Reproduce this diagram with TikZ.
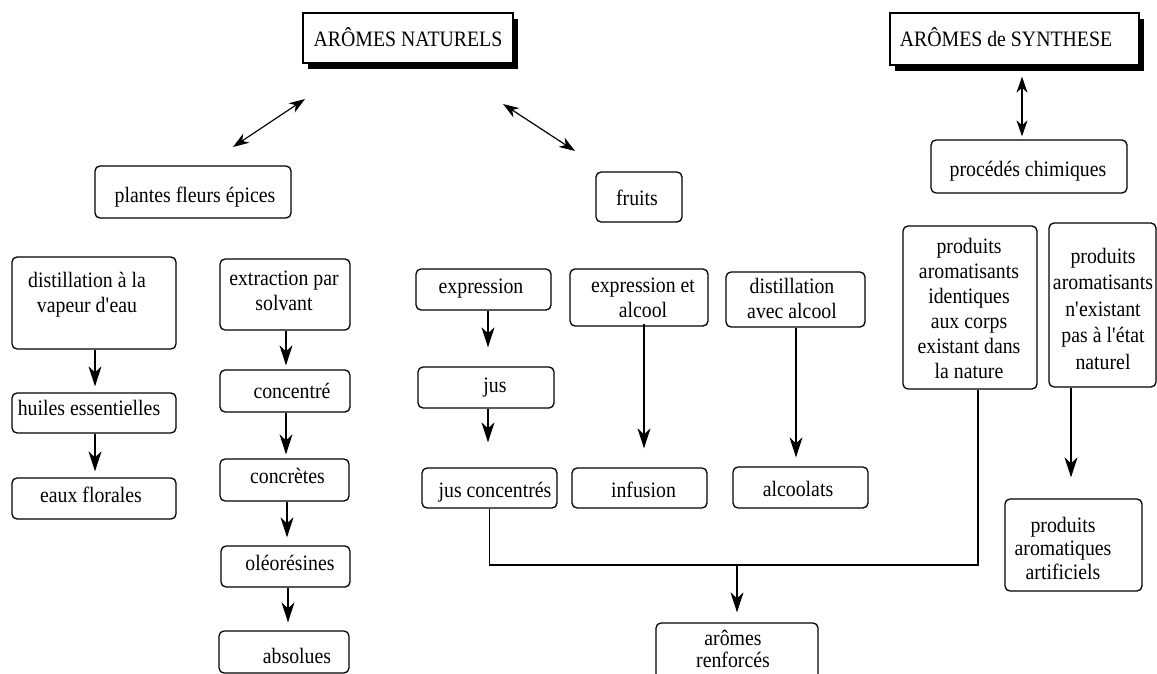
\documentclass[tikz,border=0pt]{standalone}
\usepackage{fontspec}
\setmainfont{Liberation Serif}[FakeStretch=0.9]
\usetikzlibrary{arrows.meta,shadows}
\tikzset{
  box/.style={draw, rounded corners=5pt, line width=1.3pt, inner sep=0pt},
  topbox/.style={draw, line width=1.3pt, fill=white, inner sep=0pt,
    drop shadow={shadow xshift=5pt, shadow yshift=-6pt, fill=black, opacity=1}},
  txt/.style={inner sep=0pt, align=center, font=\fontsize{22}{25}\selectfont, anchor=base},
  arr/.style={line width=1.2pt, -{Stealth[length=20pt,width=13pt,inset=6pt]}},
  darr/.style={line width=1.2pt, {Stealth[length=16pt,width=11pt,inset=5pt]}-{Stealth[length=16pt,width=11pt,inset=5pt]}},
  ln/.style={line width=1.2pt}
}
\newcommand\bx[6]{\node[#2, minimum width={#5-#3}, minimum height={#6-#4}] (#1) at ({(#3+#5)/2},{(#4+#6)/2}) {};}
% text node: anchored on the baseline of its last line
\newcommand\tx[4]{\node[txt] (#1) at (#2,#3) {#4};}
\begin{document}
\begin{tikzpicture}[x=1pt,y=-1pt]
\useasboundingbox (0,0) rectangle (1157,674);
\clip (0,0) rectangle (1157,674);
% top boxes
\bx{nat}{topbox}{303}{13}{513}{63}
\tx{natt}{408}{47}{ARÔMES NATURELS}
\bx{syn}{topbox}{890}{13}{1139}{65}
\tx{synt}{1006}{47}{ARÔMES de SYNTHESE}
% second level
\bx{proc}{box}{931}{140}{1127}{193}
\tx{proct}{1028}{177}{procédés chimiques}
\bx{plantes}{box}{95}{166}{291}{218}
\tx{plantest}{195}{202}{plantes fleurs épices}
\bx{fruits}{box}{596}{172}{682}{222}
\tx{fruitst}{637}{205}{fruits}
% left column
\bx{dist}{box}{12}{257}{176}{349}
\tx{distt}{87}{312}{distillation à la\\vapeur d\textquotesingle eau}
\bx{huiles}{box}{12}{393}{176}{433}
\tx{huilest}{89}{415}{huiles essentielles}
\bx{eaux}{box}{12}{478}{176}{519}
\tx{eauxt}{91}{502}{eaux florales}
% second column
\bx{extr}{box}{220}{259}{350}{330}
\tx{extrt}{284}{310}{extraction par\\solvant}
\bx{conc}{box}{220}{370}{350}{412}
\tx{conct}{292}{398}{concentré}
\bx{concr}{box}{220}{459}{349}{501}
\tx{concrt}{287.5}{483}{concrètes}
\bx{oleo}{box}{221}{546}{350}{587}
\tx{oleot}{290}{570}{oléorésines}
\bx{abs}{box}{219}{631}{349}{673}
\tx{abst}{297}{663}{absolues}
% fruits columns
\bx{expr}{box}{416}{269}{551}{310}
\tx{exprt}{481}{293}{expression}
\bx{jus}{box}{418}{367}{554}{408}
\tx{just}{495}{392}{jus}
\bx{jc}{box}{422}{468}{557}{508}
\tx{jct}{495}{497}{jus concentrés}
\bx{expa}{box}{570}{269}{708}{326}
\tx{expat}{643}{317}{expression et\\alcool}
\bx{inf}{box}{572}{468}{707}{508}
\tx{inft}{643.5}{497}{infusion}
\bx{dalc}{box}{726}{272}{865}{327}
\tx{dalct}{792}{318}{distillation\\avec alcool}
\bx{alc}{box}{733}{467}{868}{508}
\tx{alct}{798}{496}{alcoolats}
% synthese
\bx{pid}{box}{903}{226}{1037}{389}
\tx{pidt}{969}{378}{produits\\aromatisants\\identiques\\aux corps\\existant dans\\la nature}
\bx{pne}{box}{1049}{223}{1156}{387}
\tx{pnet}{1103}{369}{produits\\[1.5pt]aromatisants\\[1.5pt]n\textquotesingle existant\\[1.5pt]pas à l\textquotesingle état\\[1.5pt]naturel}
\bx{art}{box}{1005}{499}{1142}{591}
\tx{artt}{1063}{579}{produits\\[-1.5pt]aromatiques\\[-1.5pt]artificiels}
\bx{ar}{box}{656}{623}{818}{700}
\tx{art2}{733}{667}{arômes\\[-3pt]renforcés}
% double arrows
\coordinate (nl1) at (233,147);
\coordinate (nl2) at (305,99);
\draw[darr] (nl1) -- (nl2);
\coordinate (nr1) at (503,104);
\coordinate (nr2) at (575,151);
\draw[darr] (nr1) -- (nr2);
\draw[darr] ([xshift=7.5pt,yshift=-11pt]syn.south) -- ([xshift=-7pt,yshift=3pt]proc.north);
% arrows
\draw[arr] ([xshift=1pt]dist.south) -- ([xshift=1pt,yshift=6pt]huiles.north);
\draw[arr] ([xshift=1pt]huiles.south) -- ([xshift=1pt,yshift=6pt]eaux.north);
\draw[arr] ([xshift=1pt]extr.south) -- ([xshift=1pt,yshift=4pt]conc.north);
\draw[arr] ([xshift=1pt]conc.south) -- ([xshift=1.5pt,yshift=4pt]concr.north);
\draw[arr] ([xshift=2.5pt]concr.south) -- ([xshift=1.5pt,yshift=8pt]oleo.north);
\draw[arr] ([xshift=2.5pt]oleo.south) -- ([xshift=4pt,yshift=8pt]abs.north);
\draw[arr] ([xshift=4.5pt]expr.south) -- ([xshift=2pt,yshift=19pt]jus.north);
\draw[arr] ([xshift=2pt]jus.south) -- ([xshift=-1.5pt,yshift=25pt]jc.north);
\draw[arr] ([xshift=5pt,yshift=3pt]expa.south) -- ([xshift=4.5pt,yshift=19pt]inf.north);
\draw[arr] ([xshift=0.5pt]dalc.south) -- ([xshift=-4.5pt,yshift=9pt]alc.north);
\draw[arr] ([xshift=-31.5pt]pne.south) -- ([xshift=-2.5pt,yshift=21pt]art.north);
% merge
\coordinate (j) at (737,565);
\draw[ln] (jc.south) |- (j) -| ([xshift=8pt]pid.south);
\draw[arr] (j) -- ([xshift=0pt,yshift=10pt]ar.north);
\end{tikzpicture}
\end{document}
